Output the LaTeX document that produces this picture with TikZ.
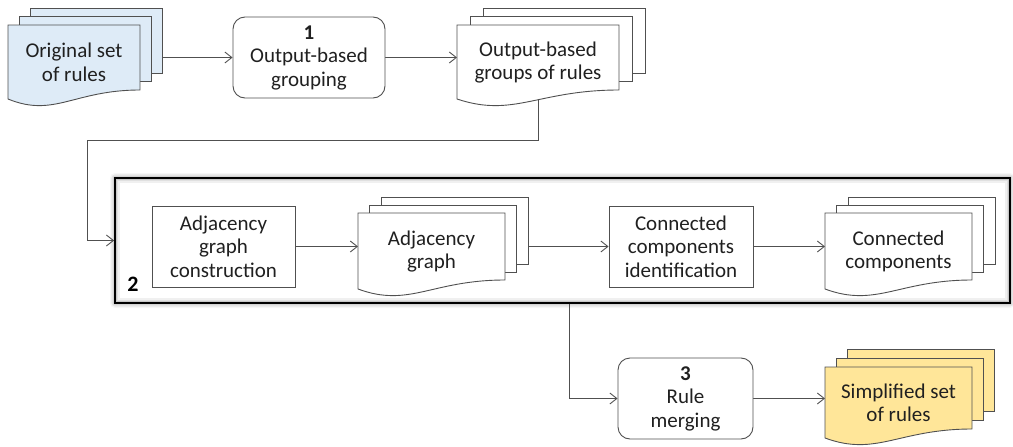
\documentclass[tikz,border=0pt]{standalone}
\usepackage{fontspec}
\setmainfont{Carlito}
\usetikzlibrary{arrows.meta,shadows.blur,calc}
\pgfdeclarelayer{back}
\pgfdeclarelayer{conn}
\pgfsetlayers{back,conn,main}
\definecolor{docblue}{HTML}{DEEBF7}
\definecolor{docyellow}{HTML}{FFE699}
\definecolor{linegray}{HTML}{505050}
\definecolor{txt}{HTML}{202020}
\tikzset{
  base/.style={font=\fontsize{21}{23.5}\selectfont, text=txt, align=center},
  proc/.style={base, rectangle, draw=linegray, line width=0.9pt, fill=white, inner sep=0pt},
  rproc/.style={proc, rounded corners=12pt},
  docline/.style={draw=linegray, line width=0.9pt},
  docnode/.style={rectangle, inner sep=0pt, outer sep=0pt},
  doctext/.style={base, inner sep=0pt},
  conn/.style={draw=linegray, line width=0.9pt, -{Straight Barb[length=7pt,width=11pt]}},
  bigbox/.style={rectangle, draw=black, line width=1.8pt, fill=white, inner sep=0pt,
    blur shadow={shadow xshift=0pt, shadow yshift=0pt, shadow blur radius=5pt, shadow opacity=55}},
}
% #1 name, #2 x0, #3 top, #4 x1, #5 right-bottom y, #6 fill, #7 dx, #8 dy, #9 text
\newcommand\mdoc[9]{%
  \foreach \k in {2,1}{%
    \draw[docline, fill=#6] ({#2+\k*#7},{#3-\k*#8}) rectangle ({#4+\k*#7},{#5-\k*#8});
  }%
  \draw[docline, fill=#6] (#2,#3) -- (#4,#3) -- (#4,#5)
     .. controls ({(#2+#4)/2},#5) and ({#2+0.35*(#4-#2)},{#5+28}) .. (#2,{#5+9}) -- cycle;
  \node[docnode, minimum width={(#4-#2)*1pt}, minimum height={(#5-#3)*1pt}] (#1) at ({(#2+#4)/2},{(#3+#5)/2}) {};
  \node[doctext] (#1-t) at ([yshift=-5pt]#1.center) {#9};
}
\begin{document}
\begin{tikzpicture}[x=1pt,y=-1pt]
\useasboundingbox (0,0) rectangle (1013,447);

% big box 2
\begin{pgfonlayer}{back}
  \node[bigbox, minimum width=895pt, minimum height=125pt] (big) at (562.5,240.5) {};
  \draw[black, opacity=.22, line width=1.5pt] ($(big.south west)+(2,-2)$) rectangle ($(big.north east)+(-2,2)$);
  \draw[black, opacity=.12, line width=1.5pt] ($(big.south west)+(3.5,-3.5)$) rectangle ($(big.north east)+(-3.5,3.5)$);
  \draw[black, opacity=.06, line width=1.5pt] ($(big.south west)+(5,-5)$) rectangle ($(big.north east)+(-5,5)$);
\end{pgfonlayer}
\node[font=\bfseries\fontsize{22}{24}\selectfont, text=black, inner sep=0pt] (lbl2) at (133,284) {2};

% documents
\mdoc{orig}{8}{25}{140}{90}{docblue}{11}{8.5}{Original set\\of rules}
\mdoc{ogr}{457}{25}{619}{90}{white}{13}{8.5}{Output-based\\groups of rules}
\mdoc{adoc}{358}{213}{505}{280}{white}{11.5}{8}{Adjacency\\graph}
\mdoc{ccdoc}{825}{213}{972}{280}{white}{11.5}{8}{Connected\\components}
\mdoc{simp}{825}{367}{972}{429}{docyellow}{11}{9}{Simplified set\\of rules}

% process boxes
\node[rproc, minimum width=152pt, minimum height=81pt] (g1) at (309,57.5)
  {\textbf{1}\\Output-based\\grouping};
\node[proc, minimum width=143pt, minimum height=81pt] (agc) at (223.5,246.5)
  {Adjacency\\graph\\construction};
\node[proc, minimum width=144pt, minimum height=81pt] (cci) at (681,246.5)
  {Connected\\components\\identification};
\node[rproc, minimum width=135pt, minimum height=81pt] (rm) at (685.5,398.5)
  {\textbf{3}\\Rule\\merging};

% connectors
\begin{pgfonlayer}{conn}
  \draw[conn] (orig.east) -- (g1.west);
  \draw[conn] (g1.east) -- (g1.east -| ogr.west);
  \draw[conn] (ogr.south) -- ++(0,50) -| ($(big.west)+(-27,0)$) -- (big.west);
  \draw[conn] (agc.east) -- (agc.east -| adoc.west);
  \draw[conn] (adoc.east) -- (adoc.east -| cci.west);
  \draw[conn] (cci.east) -- (cci.east -| ccdoc.west);
  \draw[conn] ([xshift=6.5pt]big.south) |- (rm.west);
  \draw[conn] (rm.east) -- (rm.east -| simp.west);
\end{pgfonlayer}
\end{tikzpicture}
\end{document}
